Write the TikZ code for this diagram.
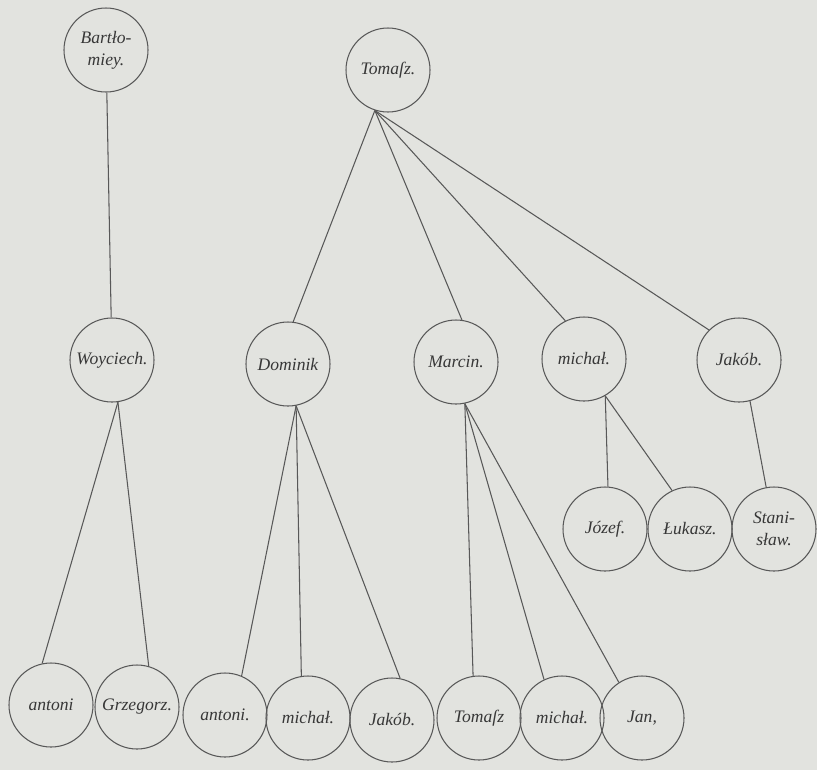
\documentclass[tikz,border=0pt]{standalone}
\usepackage{fontspec}
\setmainfont{Liberation Serif}
\definecolor{papel}{RGB}{226,227,223}
\definecolor{linea}{RGB}{88,88,88}
\definecolor{tinta}{RGB}{55,55,55}
\begin{document}
\begin{tikzpicture}[x=0.03cm,y=-0.03cm,
    persona/.style={circle,draw=linea,line width=0.9pt,minimum size=2.52cm,inner sep=0pt,
        align=center,text=tinta,font=\itshape\fontsize{15}{19}\selectfont},
    rama/.style={draw=linea,line width=0.9pt}]
    % Papel
    \fill[papel] (0,0) rectangle (817,770);

    % Primera fila
    \node[persona] (bartlomiej) at (106,50) {Bartło-\\miey.};
    \node[persona] (tomasz) at (388,70) {Tomaſz.};

    % Segunda fila
    \node[persona] (woyciech) at (112,360) {Woyciech.};
    \node[persona] (dominik) at (288,364) {Dominik};
    \node[persona] (marcin) at (456,362) {Marcin.};
    \node[persona] (michal) at (584,359) {michał.};
    \node[persona] (jakub) at (739,360) {Jakób.};

    % Tercera fila
    \node[persona] (jozef) at (605,529) {Józef.};
    \node[persona] (lukasz) at (690,529) {Łukasz.};
    \node[persona] (stanislaw) at (774,529) {Stani-\\sław.};

    % Fila de abajo
    \node[persona] (antoni) at (51,705) {antoni};
    \node[persona] (grzegorz) at (137,707) {Grzegorz.};
    \node[persona] (antoni-b) at (225,715) {antoni.};
    \node[persona] (michal-b) at (308,718) {michał.};
    \node[persona] (jakub-b) at (392,720) {Jakób.};
    \node[persona] (tomasz-b) at (479,718) {Tomaſz};
    \node[persona] (michal-c) at (562,718) {michał.};
    \node[persona] (jan) at (642,718) {Jan,};

    % Puntos de salida
    \coordinate (tomasz-p) at (tomasz.252);
    \coordinate (woyciech-p) at (woyciech.278);
    \coordinate (dominik-p) at (dominik.281);
    \coordinate (marcin-p) at (marcin.282);
    \coordinate (michal-p) at (michal.300);
    \coordinate (jakub-p) at (jakub.285);

    % Ramas
    \draw[rama] (bartlomiej) -- (woyciech);
    \draw[rama] (tomasz-p) -- (dominik.83);
    \draw[rama] (tomasz-p) -- (marcin.82);
    \draw[rama] (tomasz-p) -- (michal.116);
    \draw[rama] (tomasz-p) -- (jakub.135);

    \draw[rama] (woyciech-p) -- (antoni.102);
    \draw[rama] (woyciech-p) -- (grzegorz.74);

    \draw[rama] (dominik-p) -- (antoni-b.67);
    \draw[rama] (dominik-p) -- (michal-b.99);
    \draw[rama] (dominik-p) -- (jakub-b.79);

    \draw[rama] (marcin-p) -- (tomasz-b.98);
    \draw[rama] (marcin-p) -- (michal-c.115);
    \draw[rama] (marcin-p) -- (jan.123);

    \draw[rama] (michal-p) -- (jozef.86);
    \draw[rama] (michal-p) -- (lukasz.115);
    \draw[rama] (jakub-p) -- (stanislaw);
\end{tikzpicture}
\end{document}
